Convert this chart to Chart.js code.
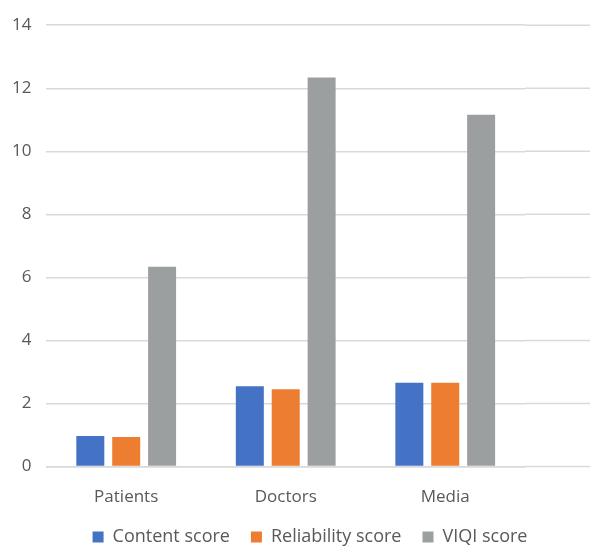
<!DOCTYPE html>
<html>
<head>
<meta charset="utf-8">
<script src="https://cdn.jsdelivr.net/npm/chart.js@4"></script>
<style>
  html, body { margin: 0; padding: 0; background: #fff; }
  #wrap { width: 590px; height: 546px; overflow: hidden; position: relative; }
  #chart { display: block; }
</style>
</head>
<body>
<div id="wrap"><canvas id="chart" width="620" height="556"></canvas></div>
<script>
// グラフのデータ
const categories = ["Patients", "Doctors", "Media"];
const contentScore = [0.97, 2.55, 2.66];
const reliabilityScore = [0.94, 2.45, 2.66];
const viqiScore = [6.34, 12.34, 11.16];

const GRID_COLOR = "#d9d9d9";
const TEXT_COLOR = "#595959";

// グリッド線を右端まで延ばし、凡例をキャンバス全体の中央に置く
const wideLayout = {
  id: "wideLayout",
  afterLayout(chart) {
    chart.legend.left = 0;
    chart.legend.right = chart.width;
  },
  beforeDatasetsDraw(chart) {
    const { ctx, chartArea, scales } = chart;
    ctx.save();
    ctx.strokeStyle = GRID_COLOR;
    ctx.lineWidth = 1.5;
    scales.y.ticks.forEach((t) => {
      const y = scales.y.getPixelForValue(t.value);
      ctx.beginPath();
      ctx.moveTo(chartArea.right, y);
      ctx.lineTo(chart.width, y);
      ctx.stroke();
    });
    ctx.restore();
  },
};

const ctx = document.getElementById("chart").getContext("2d");
new Chart(ctx, {
  type: "bar",
  data: {
    labels: categories,
    datasets: [
      { label: "Content score", data: contentScore, backgroundColor: "#4472C4" },
      { label: "Reliability score", data: reliabilityScore, backgroundColor: "#ED7D31" },
      { label: "VIQI score", data: viqiScore, backgroundColor: "#9C9FA0" },
    ],
  },
  options: {
    responsive: false,
    animation: false,
    layout: {
      padding: { top: 23, right: 95, left: -3, bottom: 0 },
    },
    datasets: {
      bar: {
        categoryPercentage: 0.675,
        barPercentage: 0.78,
      },
    },
    scales: {
      x: {
        grid: { display: false, drawTicks: false },
        border: { display: true, color: GRID_COLOR, width: 1.5 },
        ticks: {
          color: TEXT_COLOR,
          padding: 20,
          font: { family: "Open Sans", size: 17 },
        },
        afterFit(scale) {
          scale.height -= 20;
        },
      },
      y: {
        min: 0,
        max: 14,
        ticks: {
          stepSize: 2,
          color: TEXT_COLOR,
          padding: 15,
          font: { family: "Open Sans", size: 17 },
        },
        grid: { color: GRID_COLOR, lineWidth: 1.5, drawTicks: false },
        border: { display: false },
      },
    },
    plugins: {
      legend: {
        position: "bottom",
        labels: {
          color: TEXT_COLOR,
          boxWidth: 11,
          boxHeight: 11,
          padding: 21,
          font: { family: "Open Sans", size: 18 },
        },
      },
      tooltip: { enabled: false },
    },
  },
  plugins: [wideLayout],
});
</script>
</body>
</html>
